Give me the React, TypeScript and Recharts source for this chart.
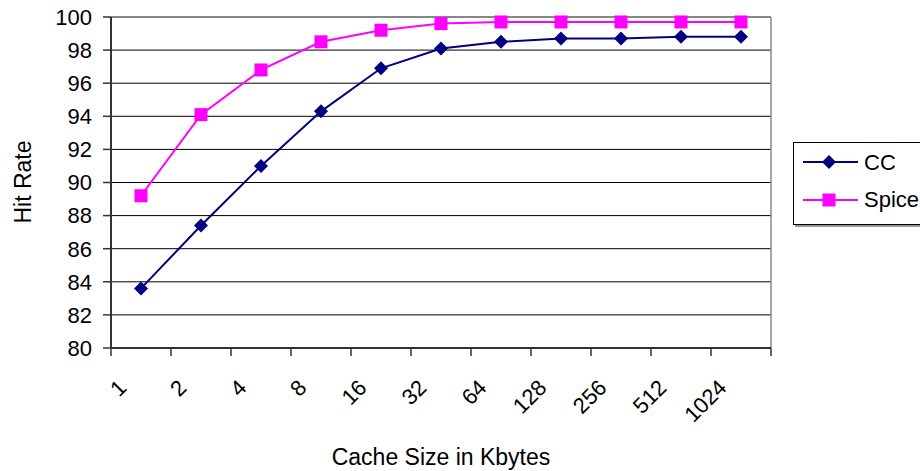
import React from 'react';
import { LineChart, Line, XAxis, YAxis, CartesianGrid, ReferenceLine } from 'recharts';

const CACHE_SIZES = ['1', '2', '4', '8', '16', '32', '64', '128', '256', '512', '1024'];
const CC_HIT = [83.6, 87.4, 91.0, 94.3, 96.9, 98.1, 98.5, 98.7, 98.7, 98.8, 98.8];
const SPICE_HIT = [89.2, 94.1, 96.8, 98.5, 99.2, 99.6, 99.7, 99.7, 99.7, 99.7, 99.7];
const Y_TICKS = [80, 82, 84, 86, 88, 90, 92, 94, 96, 98, 100];

const data = CACHE_SIZES.map((size, i) => ({ idx: i, size, cc: CC_HIT[i], spice: SPICE_HIT[i] }));
// tick marks sit between categories, like the old excel chart
const EDGES = Array.from({ length: CACHE_SIZES.length + 1 }, (_, i) => i - 0.5);

const FONT = '"Liberation Sans", Arial, sans-serif';
const NAVY = '#000080';
const MAGENTA = '#FF00FF';
const PLOT_W = 660;
const BAND = PLOT_W / CACHE_SIZES.length;

function SizeTick(props: any) {
  const { x, y, payload } = props;
  const i = Math.round(payload.value + 0.5);
  if (i >= CACHE_SIZES.length) return <g />;
  const ax = x + BAND / 2 - 13;
  const ay = y + 31;
  return (
    <text x={ax} y={ay} transform={`rotate(-45 ${ax} ${ay})`} textAnchor="end" fontSize={22} fontFamily={FONT} fill="#000">
      {CACHE_SIZES[i]}
    </text>
  );
}

const Diamond = (props: any) => {
  const { cx, cy, index } = props;
  return <path key={`d-${index}`} d={`M${cx},${cy - 7}L${cx + 7},${cy}L${cx},${cy + 7}L${cx - 7},${cy}Z`} fill={NAVY} />;
};

const Square = (props: any) => {
  const { cx, cy, index } = props;
  return <rect key={`s-${index}`} x={cx - 6.5} y={cy - 6.5} width={13} height={13} fill={MAGENTA} />;
};

function ChartLegend() {
  return (
    <svg width={127} height={86} style={{ position: 'absolute', left: 793, top: 142, overflow: 'hidden' }}>
      <rect x={2} y={3} width={300} height={82} fill="#999" />
      <rect x={0.5} y={0.5} width={300} height={82} fill="#fff" stroke="#000" strokeWidth={1} />
      <line x1={10} x2={65} y1={20} y2={20} stroke={NAVY} strokeWidth={2} />
      <path d="M36,13L43,20L36,27L29,20Z" fill={NAVY} />
      <text x={71} y={20} dominantBaseline="central" fontSize={22} fontFamily={FONT}>CC</text>
      <line x1={10} x2={65} y1={58} y2={58} stroke={MAGENTA} strokeWidth={2} />
      <rect x={29.5} y={51.5} width={13} height={13} fill={MAGENTA} />
      <text x={71} y={57} dominantBaseline="central" fontSize={22} fontFamily={FONT}>Spice</text>
    </svg>
  );
}

export default function App() {
  return (
    <div style={{ position: 'fixed', left: 0, top: 0, width: 920, height: 471, overflow: 'hidden', background: '#fff' }}>
      <LineChart width={920} height={471} data={data} margin={{ top: 17, right: 149, bottom: 0, left: 0 }}>
        <CartesianGrid vertical={false} stroke="#000" strokeWidth={1} />
        <ReferenceLine y={100} stroke="#888" strokeWidth={1.5} />
        <ReferenceLine x={10.5} stroke="#888" strokeWidth={1.5} />
        <XAxis
          dataKey="idx"
          type="number"
          domain={[-0.5, 10.5]}
          ticks={EDGES}
          interval={0}
          height={123}
          tickSize={8}
          tickMargin={2}
          axisLine={{ stroke: '#333', strokeWidth: 2 }}
          tickLine={{ stroke: '#333', strokeWidth: 1.5 }}
          tick={(p: any) => <SizeTick {...p} />}
          label={{
            content: (p: any) => {
              const vb = p.viewBox;
              return (
                <text x={vb.x + vb.width / 2} y={465} textAnchor="middle" fontSize={23} fontFamily={FONT} fill="#000">
                  Cache Size in Kbytes
                </text>
              );
            },
          }}
        />
        <YAxis
          domain={[80, 100]}
          ticks={Y_TICKS}
          interval={0}
          width={111}
          tickSize={8}
          tickMargin={11}
          axisLine={{ stroke: '#333', strokeWidth: 2 }}
          tickLine={{ stroke: '#333', strokeWidth: 1.5 }}
          tick={{ fontSize: 22, fontFamily: FONT, fill: '#000' }}
          label={{
            content: () => (
              <text x={31} y={182} transform="rotate(-90 31 182)" textAnchor="middle" fontSize={23} fontFamily={FONT} fill="#000">
                Hit Rate
              </text>
            ),
          }}
        />
        <Line dataKey="cc" stroke={NAVY} strokeWidth={2} dot={Diamond} activeDot={false} isAnimationActive={false} />
        <Line dataKey="spice" stroke={MAGENTA} strokeWidth={2} dot={Square} activeDot={false} isAnimationActive={false} />
      </LineChart>
      <ChartLegend />
    </div>
  );
}
